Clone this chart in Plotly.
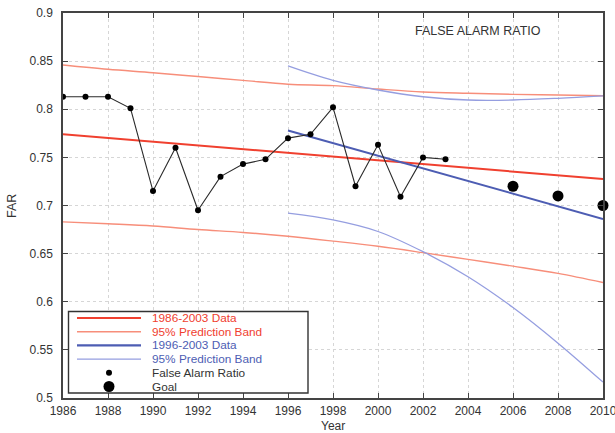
import plotly.graph_objects as go

# Observed false alarm ratio, 1986-2003
years = list(range(1986, 2004))
far = [0.813, 0.813, 0.813, 0.801, 0.715, 0.760, 0.695, 0.730, 0.743,
       0.748, 0.770, 0.774, 0.802, 0.720, 0.763, 0.709, 0.750, 0.748]

# Goals
goal_years = [2006, 2008, 2010]
goal_far = [0.720, 0.710, 0.700]

# Trend fitted to 1986-2003 data and its 95% prediction band
fit_a_years = [1986, 2010]
fit_a = [0.774, 0.7275]
band_years_a = [1986, 1988, 1990, 1992, 1994, 1996, 1998, 2000, 2002, 2004, 2006, 2008, 2010]
band_a_upper = [0.846, 0.8415, 0.838, 0.834, 0.830, 0.826, 0.8245, 0.821, 0.818, 0.8166, 0.8155, 0.8148, 0.814]
band_a_lower = [0.683, 0.681, 0.6787, 0.675, 0.672, 0.668, 0.663, 0.6576, 0.651, 0.644, 0.637, 0.6295, 0.620]

# Trend fitted to 1996-2003 data and its 95% prediction band
fit_b_years = [1996, 2010]
fit_b = [0.778, 0.686]
band_years_b = [1996, 1998, 2000, 2002, 2004, 2006, 2008, 2010]
band_b_upper = [0.845, 0.830, 0.820, 0.813, 0.8096, 0.8096, 0.8114, 0.814]
band_b_lower = [0.692, 0.685, 0.673, 0.652, 0.626, 0.594, 0.557, 0.5165]

RED = "#f0402f"
RED_LIGHT = "#f78e7a"
BLUE = "#4d5db3"
BLUE_LIGHT = "#959ee0"
INK = "#333333"
FONT = "Liberation Sans"
FS = 12.5
FS_TICK = 12
FS_LEG = 11.8

fig = go.Figure()

fig.add_trace(go.Scatter(x=band_years_a, y=band_a_upper, mode="lines",
                         line=dict(color=RED_LIGHT, width=1.4, shape="spline"), showlegend=False))
fig.add_trace(go.Scatter(x=band_years_a, y=band_a_lower, mode="lines",
                         line=dict(color=RED_LIGHT, width=1.4, shape="spline"), showlegend=False))
fig.add_trace(go.Scatter(x=band_years_b, y=band_b_upper, mode="lines",
                         line=dict(color=BLUE_LIGHT, width=1.3, shape="spline"), showlegend=False))
fig.add_trace(go.Scatter(x=band_years_b, y=band_b_lower, mode="lines",
                         line=dict(color=BLUE_LIGHT, width=1.3, shape="spline"), showlegend=False))
fig.add_trace(go.Scatter(x=fit_a_years, y=fit_a, mode="lines",
                         line=dict(color=RED, width=2), showlegend=False))
fig.add_trace(go.Scatter(x=fit_b_years, y=fit_b, mode="lines",
                         line=dict(color=BLUE, width=2), showlegend=False))
fig.add_trace(go.Scatter(x=years, y=far, mode="lines+markers",
                         line=dict(color="#2a2a2a", width=1.1),
                         marker=dict(color="black", size=6), showlegend=False))
fig.add_trace(go.Scatter(x=goal_years, y=goal_far, mode="markers",
                         marker=dict(color="black", size=11), showlegend=False, cliponaxis=False))

# Hand-built legend box in the lower-left corner
L, R, T, B = 63, 603, 13, 398
W, H = R - L, B - T
px = lambda x: (x - L) / W
py = lambda y: (B - y) / H

shapes = [dict(type="rect", xref="paper", yref="paper",
               x0=px(68.5), x1=px(308), y0=py(393), y1=py(311.5),
               line=dict(color=INK, width=1.4), fillcolor="white", layer="above")]
legend_rows = [
    ("1986-2003 Data", RED, "line", 2.2, 318),
    ("95% Prediction Band", RED, "line_light", 1.4, 331.7),
    ("1996-2003 Data", BLUE, "line", 2.2, 345.4),
    ("95% Prediction Band", BLUE, "line_light", 1.4, 359.1),
    ("False Alarm Ratio", "black", "dot", 6, 372.8),
    ("Goal", "black", "big", 11, 386.5),
]
annotations = []
for label, col, kind, w, yy in legend_rows:
    text_col = INK if col == "black" else col
    if kind.startswith("line"):
        lc = col
        if kind == "line_light":
            lc = RED_LIGHT if col == RED else BLUE_LIGHT
        shapes.append(dict(type="line", xref="paper", yref="paper",
                           x0=px(77), x1=px(141), y0=py(yy), y1=py(yy),
                           line=dict(color=lc, width=w), layer="above"))
    else:
        r = w / 2
        shapes.append(dict(type="circle", xref="paper", yref="paper",
                           x0=px(109 - r), x1=px(109 + r), y0=py(yy + r), y1=py(yy - r),
                           line=dict(color="black", width=0), fillcolor="black", layer="above"))
    annotations.append(dict(text=label, xref="paper", yref="paper", x=px(151), y=py(yy),
                            xanchor="left", yanchor="middle", showarrow=False, borderpad=0,
                            font=dict(family=FONT, size=FS_LEG, color=text_col)))

# Chart label and axis titles
annotations.append(dict(text="FALSE ALARM RATIO", xref="paper", yref="paper",
                        x=px(478), y=py(31), xanchor="center", yanchor="middle",
                        showarrow=False, font=dict(family=FONT, size=FS, color=INK)))
annotations.append(dict(text="Year", xref="paper", yref="paper", borderpad=0,
                        x=0.5, y=py(426.3), xanchor="center", yanchor="middle",
                        showarrow=False, font=dict(family=FONT, size=FS_TICK, color=INK)))
annotations.append(dict(text="FAR", xref="paper", yref="paper", textangle=-90,
                        x=px(12), y=py(206), xanchor="center", yanchor="middle",
                        showarrow=False, font=dict(family=FONT, size=FS, color=INK)))

axis_common = dict(showline=True, linecolor="#444444", linewidth=1.5, mirror="ticks",
                   ticks="inside", ticklen=5, tickcolor="#444444",
                   showgrid=True, gridcolor="#d6d6d6", griddash="dot", gridwidth=1,
                   zeroline=False, automargin=False, ticklabeloverflow="allow",
                   tickfont=dict(family=FONT, size=FS_TICK, color=INK))

fig.update_layout(
    width=615, height=433,
    margin=dict(l=L, r=615 - R, t=T, b=433 - B),
    paper_bgcolor="white", plot_bgcolor="white",
    shapes=shapes, annotations=annotations,
    xaxis=dict(range=[1986, 2010], dtick=2, tick0=1986, ticklabelstandoff=1,
               **axis_common),
    yaxis=dict(range=[0.5, 0.9], dtick=0.05, tickformat="~g", ticklabelstandoff=6,
               **axis_common),
)

fig.write_html("out.html")
